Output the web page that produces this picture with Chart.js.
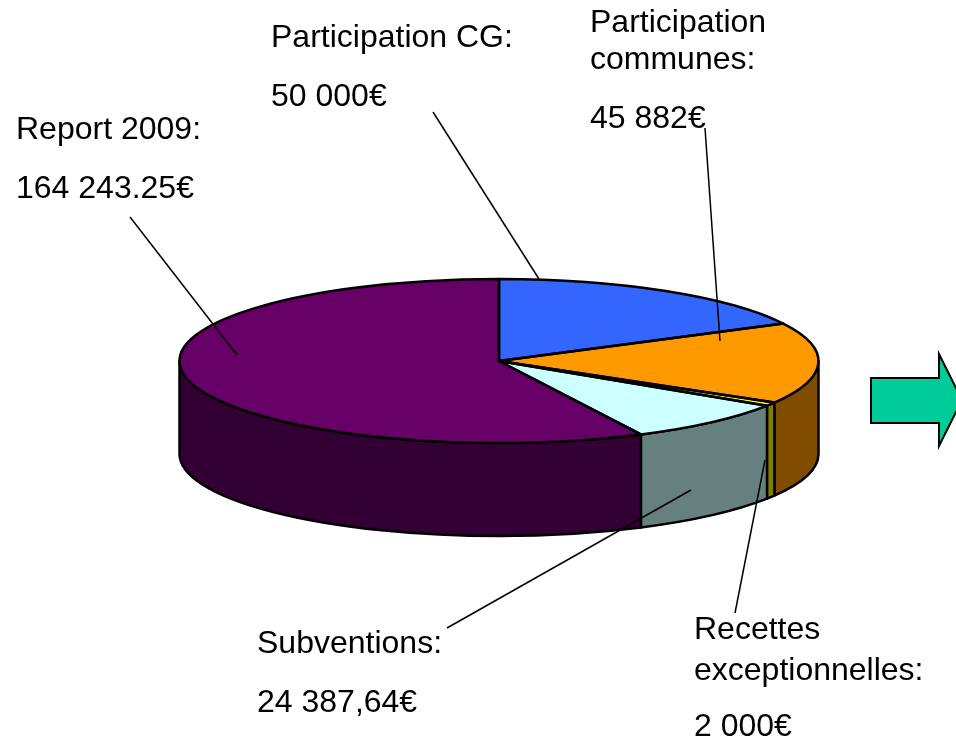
<!DOCTYPE html>
<html>
<head>
<meta charset="utf-8">
<style>html,body{margin:0;padding:0;background:#fff;overflow:hidden}canvas{display:block}</style>
<script src="https://cdn.jsdelivr.net/npm/chart.js@4"></script>
</head>
<body>
<canvas id="c" width="956" height="736"></canvas>
<script>
const categories = ["Participation CG", "Participation communes", "Recettes exceptionnelles", "Subventions", "Report 2009"];
const values = [50000, 45882, 2000, 24387.64, 164243.25];
const topColors = ["#3366FF", "#FF9900", "#FFFF00", "#CCFFFF", "#660066"];
const sideColors = ["#1A3380", "#804D00", "#808000", "#668080", "#330033"];

const annotationLines = [
  ["Participation CG:", 271, 47], ["50 000€", 271, 106],
  ["Participation", 590, 32], ["communes:", 590, 69], ["45 882€", 590, 128],
  ["Report 2009:", 16, 139], ["164 243.25€", 16, 198],
  ["Subventions:", 257, 653], ["24 387,64€", 257, 712],
  ["Recettes", 694, 639], ["exceptionnelles:", 694, 680], ["2 000€", 694, 736]
];
const leaders = [
  [433, 112, 539, 279],
  [705, 128, 720, 341],
  [130, 217, 237, 355],
  [447, 628, 691, 490],
  [735, 613, 765, 460]
];
const arrowOutline = [[871,378],[939,378],[939,354],[962,400],[939,446],[939,423],[871,423]];

const SQUASH = 0.2567, DEPTH = 93, LINE = 2.5;
const FONT = '32px "Liberation Sans", Arial, sans-serif';

const pie3d = {
  id: 'pie3d',
  beforeDatasetsDraw(chart) {
    const ctx = chart.ctx, arcs = chart.getDatasetMeta(0).data;
    const first = arcs[0];
    ctx.save();
    ctx.lineWidth = LINE; ctx.strokeStyle = '#000'; ctx.lineJoin = 'round';
    arcs.forEach((el, i) => {
      const a = Math.max(el.startAngle, 0), b = Math.min(el.endAngle, Math.PI);
      if (b <= a) return;
      const rx = el.outerRadius, ry = rx * SQUASH;
      ctx.beginPath();
      ctx.ellipse(el.x, el.y, rx, ry, 0, a, b);
      ctx.ellipse(el.x, el.y + DEPTH, rx, ry, 0, b, a, true);
      ctx.closePath();
      ctx.fillStyle = sideColors[i];
      ctx.fill(); ctx.stroke();
    });
    ctx.restore();
    ctx.save();
    ctx.translate(first.x, first.y);
    ctx.scale(1, SQUASH);
    ctx.translate(-first.x, -first.y);
  },
  afterDatasetsDraw(chart) {
    const ctx = chart.ctx, arcs = chart.getDatasetMeta(0).data;
    ctx.restore();
    ctx.save();
    ctx.lineWidth = LINE; ctx.strokeStyle = '#000'; ctx.lineJoin = 'round';
    arcs.forEach(el => {
      const rx = el.outerRadius, ry = rx * SQUASH;
      ctx.beginPath();
      ctx.moveTo(el.x, el.y);
      ctx.ellipse(el.x, el.y, rx, ry, 0, el.startAngle, el.endAngle);
      ctx.closePath();
      ctx.stroke();
    });
    ctx.lineWidth = 1.5;
    leaders.forEach(l => {
      ctx.beginPath(); ctx.moveTo(l[0], l[1]); ctx.lineTo(l[2], l[3]); ctx.stroke();
    });
    ctx.lineWidth = 2; ctx.lineJoin = 'miter';
    ctx.beginPath();
    arrowOutline.forEach((p, i) => i ? ctx.lineTo(p[0], p[1]) : ctx.moveTo(p[0], p[1]));
    ctx.closePath();
    ctx.fillStyle = '#00CC99'; ctx.fill(); ctx.stroke();
    ctx.fillStyle = '#000'; ctx.font = FONT; ctx.textBaseline = 'alphabetic'; ctx.textAlign = 'left';
    annotationLines.forEach(t => ctx.fillText(t[0], t[1], t[2]));
    ctx.restore();
  }
};

new Chart(document.getElementById('c'), {
  type: 'pie',
  data: {
    labels: categories,
    datasets: [{ data: values, backgroundColor: topColors, borderWidth: 0, radius: 319.5 }]
  },
  options: {
    responsive: false,
    animation: false,
    layout: { padding: { left: 42, bottom: 14 } },
    plugins: { legend: { display: false }, tooltip: { enabled: false } }
  },
  plugins: [pie3d]
});
</script>
</body>
</html>
